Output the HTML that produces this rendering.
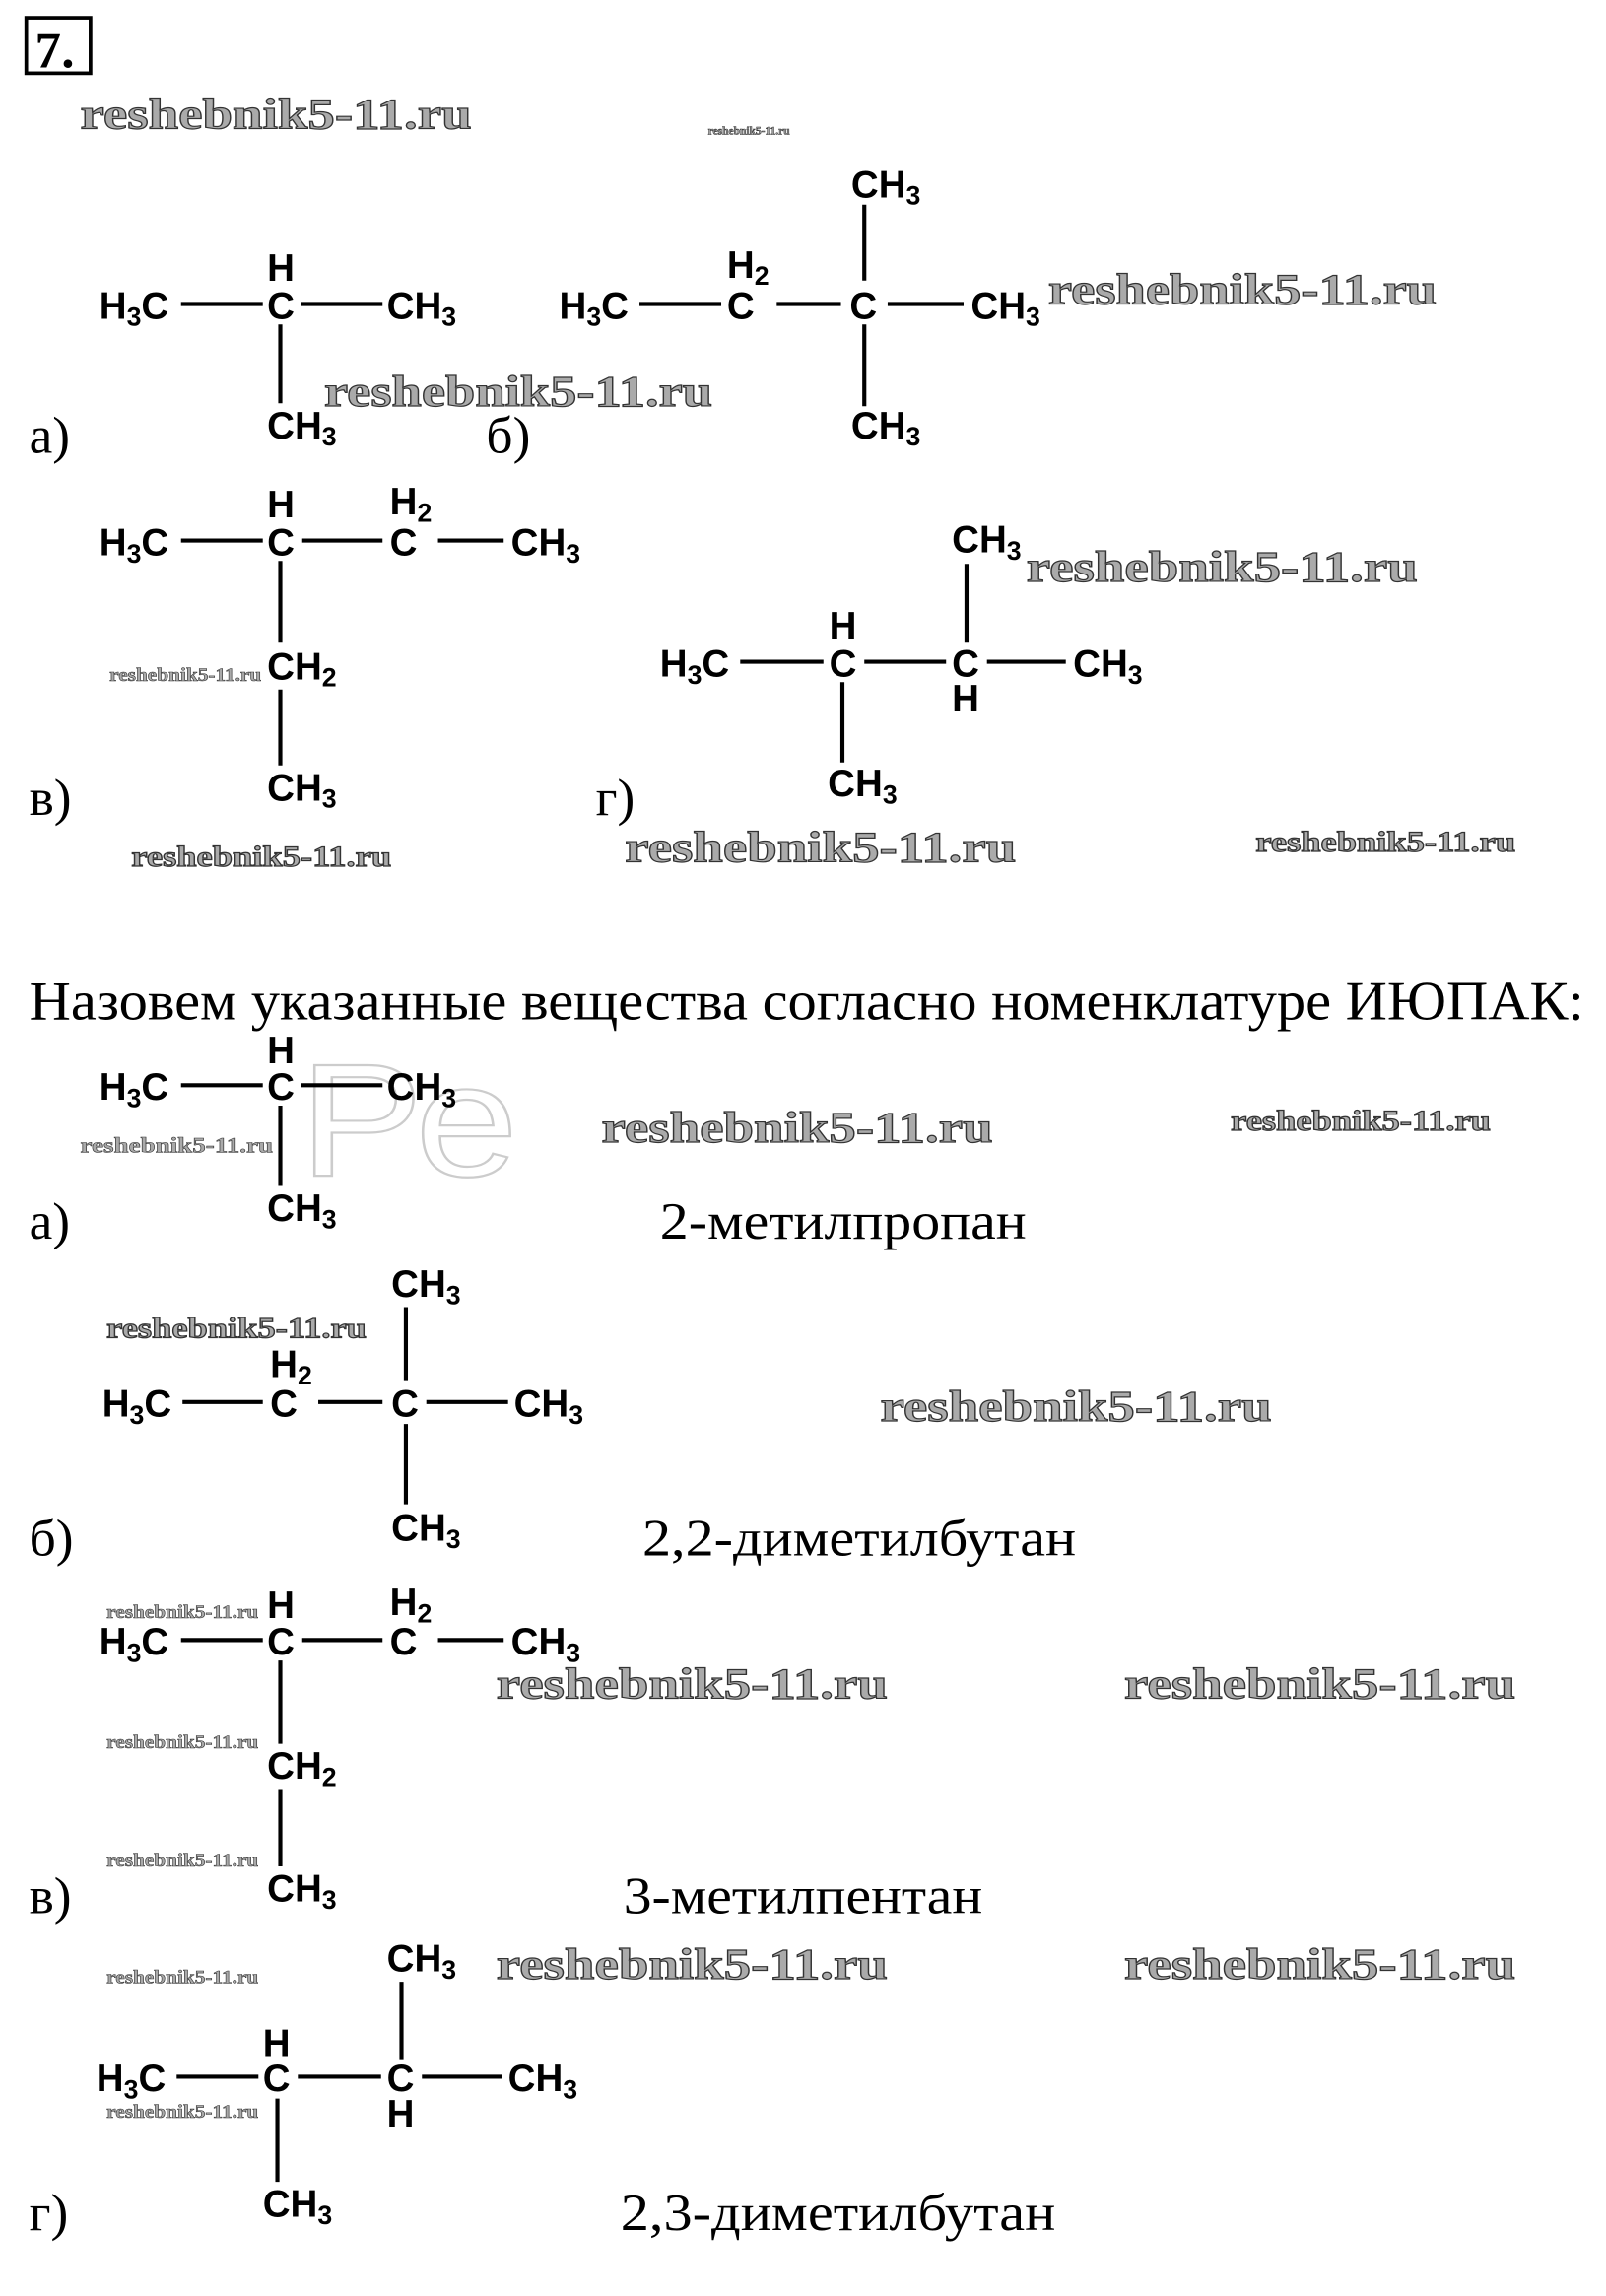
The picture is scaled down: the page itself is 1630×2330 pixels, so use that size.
<!DOCTYPE html>
<html><head><meta charset="utf-8"><style>
html,body{margin:0;padding:0;background:#fff;width:1630px;height:2330px;overflow:hidden}
svg{display:block}
.s{font-family:"Liberation Sans",Arial,sans-serif;font-size:26px;fill:#000;font-weight:bold}
.r{font-family:"Liberation Serif",serif;font-size:36px;fill:#000}
.w{font-family:"Liberation Serif",serif;font-weight:bold;fill:#aaa;stroke:#333;stroke-width:0.8}
line{stroke:#000;stroke-width:2.8}
</style></head><body>
<svg width="1630" height="2330" viewBox="0 0 1100 1572" xmlns="http://www.w3.org/2000/svg">
<rect x="18" y="12" width="44" height="38" fill="none" stroke="#000" stroke-width="2.5"/>
<text x="24" y="46" class="r" style="font-size:36px;font-weight:bold">7.</text>

<!-- watermarks -->
<g class="w">
<text x="55" y="88" font-size="30" textLength="268" lengthAdjust="spacingAndGlyphs">reshebnik5-11.ru</text>
<text x="718" y="208" font-size="30" textLength="266" lengthAdjust="spacingAndGlyphs">reshebnik5-11.ru</text>
<text x="222" y="278" font-size="30" textLength="266" lengthAdjust="spacingAndGlyphs">reshebnik5-11.ru</text>
<text x="703" y="398" font-size="30" textLength="268" lengthAdjust="spacingAndGlyphs">reshebnik5-11.ru</text>
<text x="428" y="590" font-size="30" textLength="268" lengthAdjust="spacingAndGlyphs">reshebnik5-11.ru</text>
<text x="412" y="782" font-size="30" textLength="268" lengthAdjust="spacingAndGlyphs">reshebnik5-11.ru</text>
<text x="603" y="973" font-size="30" textLength="268" lengthAdjust="spacingAndGlyphs">reshebnik5-11.ru</text>
<text x="340" y="1163" font-size="30" textLength="268" lengthAdjust="spacingAndGlyphs">reshebnik5-11.ru</text>
<text x="770" y="1163" font-size="30" textLength="268" lengthAdjust="spacingAndGlyphs">reshebnik5-11.ru</text>
<text x="340" y="1355" font-size="30" textLength="268" lengthAdjust="spacingAndGlyphs">reshebnik5-11.ru</text>
<text x="770" y="1355" font-size="30" textLength="268" lengthAdjust="spacingAndGlyphs">reshebnik5-11.ru</text>
<text x="860" y="583" font-size="20" textLength="178" lengthAdjust="spacingAndGlyphs">reshebnik5-11.ru</text>
<text x="90" y="593" font-size="20" textLength="178" lengthAdjust="spacingAndGlyphs">reshebnik5-11.ru</text>
<text x="843" y="774" font-size="20" textLength="178" lengthAdjust="spacingAndGlyphs">reshebnik5-11.ru</text>
<text x="73" y="916" font-size="20" textLength="178" lengthAdjust="spacingAndGlyphs">reshebnik5-11.ru</text>
</g>
<g class="w" style="stroke-width:0.4">
<text x="75" y="466" font-size="13" textLength="104" lengthAdjust="spacingAndGlyphs">reshebnik5-11.ru</text>
<text x="55" y="789" font-size="15" textLength="132" lengthAdjust="spacingAndGlyphs">reshebnik5-11.ru</text>
<text x="73" y="1108" font-size="13" textLength="104" lengthAdjust="spacingAndGlyphs">reshebnik5-11.ru</text>
<text x="73" y="1197" font-size="13" textLength="104" lengthAdjust="spacingAndGlyphs">reshebnik5-11.ru</text>
<text x="73" y="1278" font-size="13" textLength="104" lengthAdjust="spacingAndGlyphs">reshebnik5-11.ru</text>
<text x="73" y="1358" font-size="13" textLength="104" lengthAdjust="spacingAndGlyphs">reshebnik5-11.ru</text>
<text x="73" y="1450" font-size="13" textLength="104" lengthAdjust="spacingAndGlyphs">reshebnik5-11.ru</text>
<text x="485" y="92" font-size="8" textLength="56" lengthAdjust="spacingAndGlyphs">reshebnik5-11.ru</text>
</g>
<text x="205" y="805" font-family="Liberation Sans,sans-serif" font-size="110" fill="none" stroke="#ccc" stroke-width="1.5" textLength="150" lengthAdjust="spacingAndGlyphs">Ре</text>

<!-- a) top -->
<text class="s" x="68" y="218">H<tspan font-size="18" dy="5">3</tspan><tspan dy="-5">C</tspan></text>
<line x1="124" y1="208" x2="180" y2="208"/>
<text class="s" x="183" y="218">C</text><text class="s" x="183" y="192">H</text>
<line x1="206" y1="208" x2="262" y2="208"/>
<text class="s" x="265" y="218">CH<tspan font-size="18" dy="5">3</tspan></text>
<line x1="192" y1="222" x2="192" y2="276"/>
<text class="s" x="183" y="300">CH<tspan font-size="18" dy="5">3</tspan></text>
<text class="r" x="20" y="310">а)</text>

<!-- б) top -->
<text class="s" x="383" y="218">H<tspan font-size="18" dy="5">3</tspan><tspan dy="-5">C</tspan></text>
<line x1="438" y1="208" x2="494" y2="208"/>
<text class="s" x="498" y="218">C</text><text class="s" x="498" y="190">H<tspan font-size="18" dy="5">2</tspan></text>
<line x1="532" y1="208" x2="576" y2="208"/>
<text class="s" x="582" y="218">C</text>
<line x1="608" y1="208" x2="660" y2="208"/>
<text class="s" x="665" y="218">CH<tspan font-size="18" dy="5">3</tspan></text>
<line x1="592" y1="140" x2="592" y2="192"/>
<line x1="592" y1="222" x2="592" y2="278"/>
<text class="s" x="583" y="135">CH<tspan font-size="18" dy="5">3</tspan></text>
<text class="s" x="583" y="300">CH<tspan font-size="18" dy="5">3</tspan></text>
<text class="r" x="333" y="310">б)</text>

<!-- в) top -->
<text class="s" x="68" y="380">H<tspan font-size="18" dy="5">3</tspan><tspan dy="-5">C</tspan></text>
<line x1="124" y1="370" x2="180" y2="370"/>
<text class="s" x="183" y="380">C</text><text class="s" x="183" y="354">H</text>
<line x1="207" y1="370" x2="262" y2="370"/>
<text class="s" x="267" y="380">C</text><text class="s" x="267" y="352">H<tspan font-size="18" dy="5">2</tspan></text>
<line x1="300" y1="370" x2="345" y2="370"/>
<text class="s" x="350" y="380">CH<tspan font-size="18" dy="5">3</tspan></text>
<line x1="192" y1="384" x2="192" y2="440"/>
<text class="s" x="183" y="465">CH<tspan font-size="18" dy="5">2</tspan></text>
<line x1="192" y1="472" x2="192" y2="524"/>
<text class="s" x="183" y="548">CH<tspan font-size="18" dy="5">3</tspan></text>
<text class="r" x="20" y="558">в)</text>

<!-- г) top -->
<text class="s" x="452" y="463">H<tspan font-size="18" dy="5">3</tspan><tspan dy="-5">C</tspan></text>
<line x1="507" y1="453" x2="564" y2="453"/>
<text class="s" x="568" y="463">C</text><text class="s" x="568" y="437">H</text>
<line x1="592" y1="453" x2="648" y2="453"/>
<text class="s" x="652" y="463">C</text><text class="s" x="652" y="487">H</text>
<line x1="676" y1="453" x2="730" y2="453"/>
<text class="s" x="735" y="463">CH<tspan font-size="18" dy="5">3</tspan></text>
<line x1="577" y1="467" x2="577" y2="522"/>
<text class="s" x="567" y="545">CH<tspan font-size="18" dy="5">3</tspan></text>
<line x1="662" y1="386" x2="662" y2="440"/>
<text class="s" x="652" y="378">CH<tspan font-size="18" dy="5">3</tspan></text>
<text class="r" x="408" y="558">г)</text>

<text class="r" x="20" y="698" style="font-size:38px" textLength="1065" lengthAdjust="spacingAndGlyphs">Назовем указанные вещества согласно номенклатуре ИЮПАК:</text>

<!-- a) bottom -->
<text class="s" x="68" y="753">H<tspan font-size="18" dy="5">3</tspan><tspan dy="-5">C</tspan></text>
<line x1="124" y1="743" x2="180" y2="743"/>
<text class="s" x="183" y="753">C</text><text class="s" x="183" y="728">H</text>
<line x1="206" y1="743" x2="262" y2="743"/>
<text class="s" x="265" y="753">CH<tspan font-size="18" dy="5">3</tspan></text>
<line x1="192" y1="757" x2="192" y2="812"/>
<text class="s" x="183" y="836">CH<tspan font-size="18" dy="5">3</tspan></text>
<text class="r" x="20" y="848">а)</text>
<text class="r" x="452" y="848" textLength="251" lengthAdjust="spacingAndGlyphs">2-метилпропан</text>

<!-- б) bottom -->
<text class="s" x="70" y="970">H<tspan font-size="18" dy="5">3</tspan><tspan dy="-5">C</tspan></text>
<line x1="125" y1="960" x2="180" y2="960"/>
<text class="s" x="185" y="970">C</text><text class="s" x="185" y="943">H<tspan font-size="18" dy="5">2</tspan></text>
<line x1="218" y1="960" x2="262" y2="960"/>
<text class="s" x="268" y="970">C</text>
<line x1="292" y1="960" x2="348" y2="960"/>
<text class="s" x="352" y="970">CH<tspan font-size="18" dy="5">3</tspan></text>
<line x1="278" y1="895" x2="278" y2="945"/>
<line x1="278" y1="975" x2="278" y2="1030"/>
<text class="s" x="268" y="888">CH<tspan font-size="18" dy="5">3</tspan></text>
<text class="s" x="268" y="1055">CH<tspan font-size="18" dy="5">3</tspan></text>
<text class="r" x="20" y="1065">б)</text>
<text class="r" x="440" y="1065" textLength="297" lengthAdjust="spacingAndGlyphs">2,2-диметилбутан</text>

<!-- в) bottom -->
<text class="s" x="68" y="1133">H<tspan font-size="18" dy="5">3</tspan><tspan dy="-5">C</tspan></text>
<line x1="124" y1="1123" x2="180" y2="1123"/>
<text class="s" x="183" y="1133">C</text><text class="s" x="183" y="1108">H</text>
<line x1="207" y1="1123" x2="262" y2="1123"/>
<text class="s" x="267" y="1133">C</text><text class="s" x="267" y="1106">H<tspan font-size="18" dy="5">2</tspan></text>
<line x1="300" y1="1123" x2="345" y2="1123"/>
<text class="s" x="350" y="1133">CH<tspan font-size="18" dy="5">3</tspan></text>
<line x1="192" y1="1137" x2="192" y2="1194"/>
<text class="s" x="183" y="1218">CH<tspan font-size="18" dy="5">2</tspan></text>
<line x1="192" y1="1225" x2="192" y2="1278"/>
<text class="s" x="183" y="1302">CH<tspan font-size="18" dy="5">3</tspan></text>
<text class="r" x="20" y="1310">в)</text>
<text class="r" x="427" y="1310" textLength="246" lengthAdjust="spacingAndGlyphs">3-метилпентан</text>

<!-- г) bottom -->
<text class="s" x="66" y="1432">H<tspan font-size="18" dy="5">3</tspan><tspan dy="-5">C</tspan></text>
<line x1="121" y1="1422" x2="177" y2="1422"/>
<text class="s" x="180" y="1432">C</text><text class="s" x="180" y="1408">H</text>
<line x1="204" y1="1422" x2="261" y2="1422"/>
<text class="s" x="265" y="1432">C</text><text class="s" x="265" y="1456">H</text>
<line x1="289" y1="1422" x2="344" y2="1422"/>
<text class="s" x="348" y="1432">CH<tspan font-size="18" dy="5">3</tspan></text>
<line x1="275" y1="1357" x2="275" y2="1410"/>
<text class="s" x="265" y="1350">CH<tspan font-size="18" dy="5">3</tspan></text>
<line x1="190" y1="1437" x2="190" y2="1494"/>
<text class="s" x="180" y="1518">CH<tspan font-size="18" dy="5">3</tspan></text>
<text class="r" x="20" y="1527">г)</text>
<text class="r" x="425" y="1527" textLength="298" lengthAdjust="spacingAndGlyphs">2,3-диметилбутан</text>
</svg>
</body></html>
